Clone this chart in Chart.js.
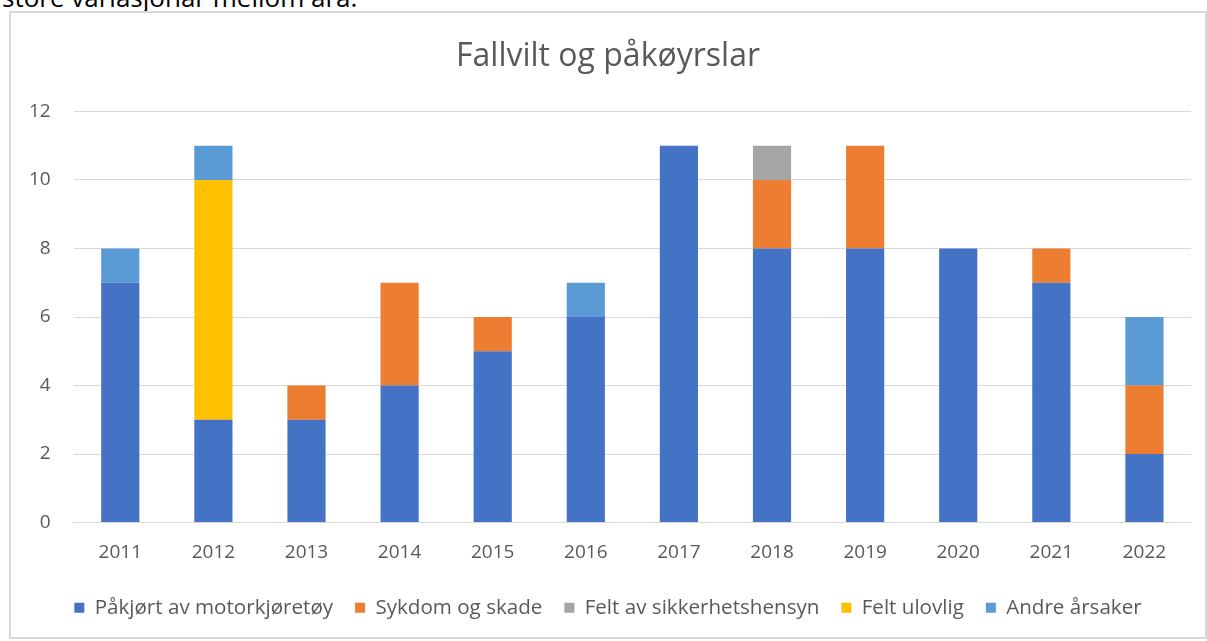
<!DOCTYPE html>
<html>
<head>
<meta charset="utf-8">
<script src="https://cdn.jsdelivr.net/npm/chart.js@4"></script>
<style>
  body { margin: 0; background: #fff; width: 1207px; height: 641px; overflow: hidden; position: relative; font-family: "Open Sans", sans-serif; }
  .lead { position: absolute; left: 2px; top: -20px; font-size: 26px; line-height: 35px; color: #000; font-family: "Open Sans", sans-serif; }
  .box { position: absolute; left: 9px; top: 11px; width: 1194px; height: 624px; border: 2px solid #d9d9d9; }
</style>
</head>
<body>
<div class="lead">store variasjonar mellom åra.</div>
<div class="box"><canvas id="chart"></canvas></div>
<script>
const years = ['2011', '2012', '2013', '2014', '2015', '2016', '2017', '2018', '2019', '2020', '2021', '2022'];
const pakjort = [7, 3, 3, 4, 5, 6, 11, 8, 8, 8, 7, 2];
const sykdom = [0, 0, 1, 3, 1, 0, 0, 2, 3, 0, 1, 2];
const sikkerhet = [0, 0, 0, 0, 0, 0, 0, 1, 0, 0, 0, 0];
const ulovlig = [0, 7, 0, 0, 0, 0, 0, 0, 0, 0, 0, 0];
const andre = [1, 1, 0, 0, 0, 1, 0, 0, 0, 0, 0, 2];
const yTicks = [0, 2, 4, 6, 8, 10, 12];

const grey = '#595959';
const font = 'Open Sans';

const series = [
  ['Påkjørt av motorkjøretøy', pakjort, '#4472C4'],
  ['Sykdom og skade', sykdom, '#ED7D31'],
  ['Felt av sikkerhetshensyn', sikkerhet, '#A5A5A5'],
  ['Felt ulovlig', ulovlig, '#FFC000'],
  ['Andre årsaker', andre, '#5B9BD5']
];

new Chart(document.getElementById('chart'), {
  type: 'bar',
  data: {
    labels: years,
    datasets: series.map(([label, data, color]) => ({
      label,
      data,
      backgroundColor: color,
      barPercentage: 0.82,
      categoryPercentage: 0.5
    }))
  },
  options: {
    responsive: true,
    maintainAspectRatio: false,
    animation: false,
    layout: { padding: { left: 14, right: 14, top: 10, bottom: 9 } },
    plugins: {
      title: {
        display: true,
        text: 'Fallvilt og påkøyrslar',
        color: grey,
        font: { family: font, size: 32, weight: 'normal' },
        padding: { top: 15, bottom: 35 }
      },
      legend: {
        position: 'bottom',
        labels: {
          color: grey,
          font: { family: font, size: 20.6 },
          boxWidth: 10,
          boxHeight: 10,
          padding: 22
        }
      },
      tooltip: { enabled: false }
    },
    scales: {
      x: {
        stacked: true,
        grid: { display: false },
        border: { color: '#d9d9d9' },
        ticks: { color: grey, font: { family: font, size: 19 }, padding: 11 }
      },
      y: {
        stacked: true,
        min: 0,
        max: 12,
        afterBuildTicks: axis => { axis.ticks = yTicks.map(v => ({ value: v })); },
        grid: { color: '#d9d9d9', drawTicks: true, tickLength: 19, tickColor: 'transparent' },
        border: { display: false },
        ticks: { color: grey, font: { family: font, size: 19 }, padding: 4 }
      }
    }
  }
});
</script>
</body>
</html>
